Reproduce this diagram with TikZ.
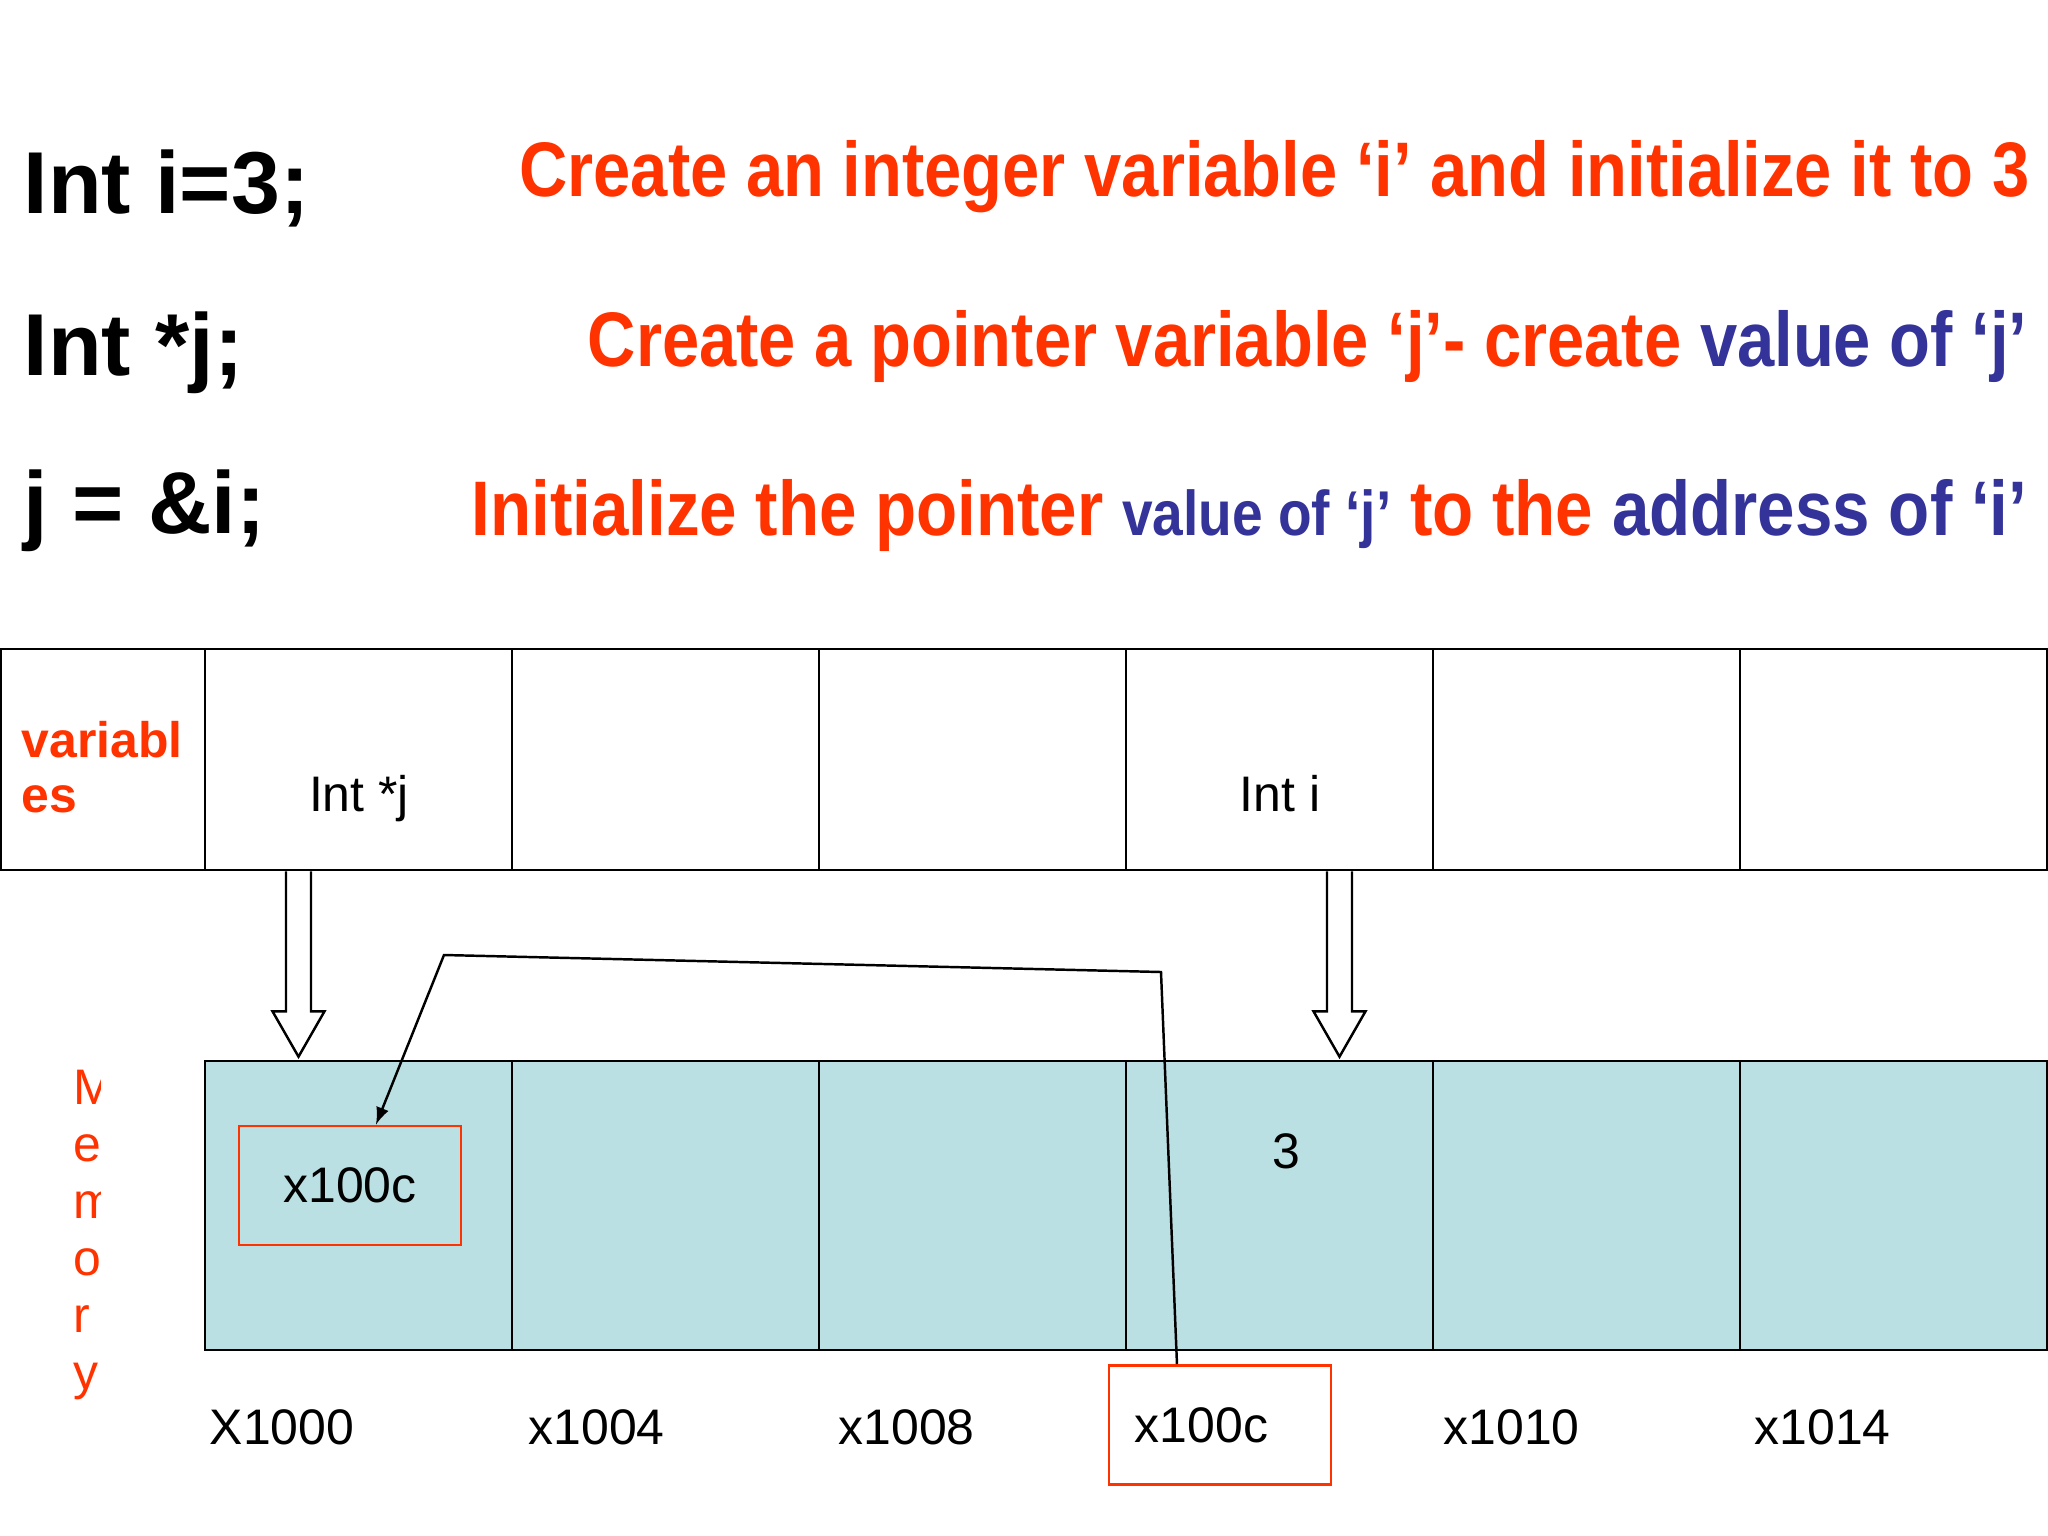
\documentclass[tikz,border=0pt]{standalone}
\usepackage{fontspec}
\setmainfont{Liberation Sans}
\usetikzlibrary{calc}

\definecolor{slidered}{HTML}{FF3300}
\definecolor{slideblue}{HTML}{333399}
\definecolor{memfill}{HTML}{BBE0E3}

\begin{document}
\begin{tikzpicture}[x=0.01cm, y=-0.01cm,
	cell/.style={draw, line width=0.7pt, minimum width=3.07cm, minimum height=2.21cm, inner sep=0pt},
	memcell/.style={cell, fill=memfill, minimum height=2.89cm},
	addr/.style={anchor=base west, inner sep=0pt, font=\fontsize{14.2}{17}\selectfont},
	redbox/.style={draw=slidered, line width=0.8pt, minimum width=2.22cm, minimum height=1.19cm, font=\fontsize{14.2}{17}\selectfont},
	code/.style={anchor=base west, inner sep=0pt, font=\fontsize{25}{30}\selectfont\bfseries},
	note/.style={anchor=base east, inner sep=0pt, text=slidered, font=\fontsize{22}{26}\selectfont\bfseries},
	hollow/.style={draw, fill=white, line width=0.7pt}]

	\def \sq {0.865} % squeeze of the red lines
	\def \colw {307}

	\useasboundingbox (0,0) rectangle (2048,1536);
	\fill[white] (0,0) rectangle (2048,1536);

	% the three statements
	\node[code] (stmt1) at (23,213) {Int i=3;};
	\node[code] (stmt2) at (23,375) {Int *j;};
	\node[code] (stmt3) at (23,533) {j = \&i;};

	\node[note] (note1) at (2030,196) {\scalebox{\sq}[1]{Create an integer variable ‘i’ and initialize it to 3}};
	\node[note] (note2) at (2028,366) {\scalebox{\sq}[1]{Create a pointer variable ‘j’- create \textcolor{slideblue}{value of ‘j’}}};
	\node[note] (note3) at (2028,535) {\scalebox{0.87}[1]{Initialize the pointer
		{\fontsize{18}{22}\selectfont\color{slideblue}value of ‘j’} to the \textcolor{slideblue}{address of ‘i’}}};

	% variables row
	\node[cell, minimum width=2.04cm] (var0) at (103,759.5) {};
	\foreach \i in {1,...,6}
		\node[cell] (var\i) at ({205+\colw*\i-\colw/2},759.5) {};
	\node[anchor=west, inner sep=0pt, align=left, text=slidered,
		font=\fontsize{14.2}{15.6}\selectfont\bfseries] (varlbl) at (21,767) {variabl\\es};
	\node[anchor=base] (jname) at (359,811) {\fontsize{14.2}{17}\selectfont Int *j};
	\node[anchor=base] (iname) at (1280,811) {\fontsize{14.2}{17}\selectfont Int i};

	% memory row
	\foreach \i in {1,...,6}
		\node[memcell] (mem\i) at ({205+\colw*\i-\colw/2},1205.5) {};

	\begin{scope}
		\clip (55,1040) rectangle (100,1420);
		\foreach \ch [count=\k] in {M,e,m,o,r,y}
			\node[anchor=base west, inner sep=0pt, text=slidered, font=\fontsize{14.2}{17}\selectfont]
				(memltr\k) at (73,{1104+57*(\k-1)}) {\ch};
	\end{scope}

	\node[redbox] (ptrval) at (350,1185.5) {x100c};
	\node[font=\fontsize{14.2}{17}\selectfont] (ival) at (1286,1151) {3};

	% addresses
	\node[addr] (a0) at (209,1444) {X1000};
	\node[addr] (a1) at (528,1444) {x1004};
	\node[addr] (a2) at (838,1444) {x1008};
	\node[redbox, text width=1.7cm, align=left] (ptraddr) at (1220,1425) {x100c};
	\node[addr] (a4) at (1443,1444) {x1010};
	\node[addr] (a5) at (1754,1444) {x1014};

	% hollow arrows variable -> memory
	\foreach \src/\dst/\dx in {var1/mem1/-60, var4/mem4/60}
		\draw[hollow] ($(\src.south)+(\dx-12.5,0)$) -- ++(0,140) -- ++(-13.5,0)
			-- ($(\dst.north)+(\dx,-3)$) -- ($(\src.south)+(\dx+26,140)$) -- ++(-13.5,0) -- ++(0,-140);

	% j points to i
	\coordinate (bendA) at (1161,972);
	\coordinate (bendB) at (444,955);
	\draw[->, >=latex, line width=0.7pt] ([xshift=-0.43cm]ptraddr.north) -- (bendA) -- (bendB)
		-- ([xshift=0.26cm]ptrval.north);

\end{tikzpicture}
\end{document}
